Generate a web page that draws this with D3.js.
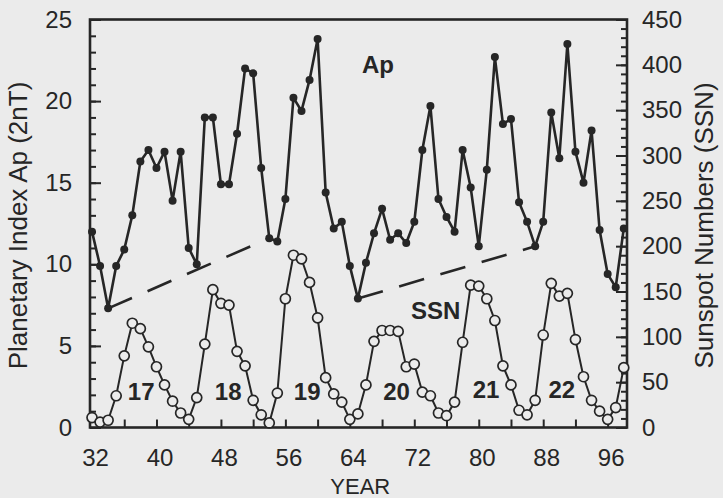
<!DOCTYPE html>
<html>
<head>
<meta charset="utf-8">
<script src="https://cdn.jsdelivr.net/npm/d3@7"></script>
<style>
  body { margin: 0; background: #ebebeb; }
  svg { display: block; font-family: "Liberation Sans", Arial, sans-serif; }
  .axis path, .axis line { stroke: #262626; stroke-width: 2; }
  .axis text { font-size: 24px; fill: #262626; }
</style>
</head>
<body>
<div class="container"></div>
<script>
// yearly values, 1932 .. 1998
var years = d3.range(1932, 1999);
var apValues = [12.0, 9.9, 7.3, 9.9, 10.9, 13.0, 16.3, 17.0, 15.9, 16.9,
                13.9, 16.9, 11.0, 10.0, 19.0, 19.0, 14.9, 14.9, 18.0, 22.0,
                21.7, 15.9, 11.6, 11.4, 14.0, 20.2, 19.4, 21.3, 23.8, 14.4,
                12.2, 12.6, 9.9, 7.9, 10.1, 11.9, 13.4, 11.5, 11.9, 11.3,
                12.6, 17.0, 19.7, 14.0, 12.9, 12.0, 17.0, 14.7, 11.1, 15.8,
                22.7, 18.6, 18.9, 13.8, 12.6, 11.1, 12.6, 19.3, 16.5, 23.5,
                16.9, 15.0, 18.2, 12.1, 9.4, 8.6, 12.2];
var ssnValues = [11, 6, 8, 35, 79, 115, 109, 89, 67, 47,
                 29, 16, 9, 33, 92, 152, 137, 135, 84, 68,
                 30, 14, 5, 38, 142, 190, 186, 160, 121, 55,
                 37, 28, 9, 15, 47, 95, 107, 107, 106, 67,
                 70, 39, 35, 16, 13, 28, 94, 157, 156, 142,
                 118, 68, 47, 19, 14, 30, 102, 159, 145, 148,
                 97, 56, 30, 18, 9, 22, 66];

// dashed lines join these Ap minima
var trendPairs = [[1934, 1954], [1965, 1987]];

// solar cycle numbers
var cycleNames = ["17", "18", "19", "20", "21", "22"];
var cycleYears = [1938.1, 1948.9, 1958.7, 1969.8, 1980.9, 1990.3];
var cycleSsn = [30, 30, 30, 30, 33, 33];

var yearTicks = d3.range(1932, 1999, 8);

var margin = {top: 19.5, right: 96, bottom: 70.5, left: 90};
var width = 723 - margin.left - margin.right;
var height = 498 - margin.top - margin.bottom;
var ink = "#262626";
var bg = "#ebebeb";

var x = d3.scaleLinear().domain([1931.75, 1998.4]).range([0, width]);
var yAp = d3.scaleLinear().domain([0, 25]).range([height, 0]);
var ySsn = d3.scaleLinear().domain([0, 450]).range([height, 0]);

var apData = years.map(function(yr, i) { return {year: yr, value: apValues[i]}; });
var ssnData = years.map(function(yr, i) { return {year: yr, value: ssnValues[i]}; });

var svg = d3.select(".container")
    .append("svg")
    .attr("width", 723)
    .attr("height", 498)
    .append("g")
    .attr("transform", "translate(" + margin.left + "," + margin.top + ")");

// frame
svg.append("rect")
    .attr("width", width)
    .attr("height", height)
    .attr("fill", "none")
    .attr("stroke", ink)
    .attr("stroke-width", 2.6);

// left axis: minor + major ticks pointing in
svg.append("g")
    .attr("class", "axis")
    .call(d3.axisLeft(yAp).tickValues(d3.range(0, 26, 1)).tickSize(-6).tickFormat(""));
svg.append("g")
    .attr("class", "axis")
    .call(d3.axisLeft(yAp).tickValues(d3.range(0, 26, 5)).tickSize(-11).tickPadding(18));

// right axis
svg.append("g")
    .attr("class", "axis")
    .attr("transform", "translate(" + width + ",0)")
    .call(d3.axisRight(ySsn).tickValues(d3.range(0, 451, 10)).tickSize(-6).tickFormat(""));
svg.append("g")
    .attr("class", "axis")
    .attr("transform", "translate(" + width + ",0)")
    .call(d3.axisRight(ySsn).tickValues(d3.range(0, 451, 50)).tickSize(-11).tickPadding(15));

// bottom axis
svg.append("g")
    .attr("class", "axis")
    .attr("transform", "translate(0," + height + ")")
    .call(d3.axisBottom(x).tickValues(d3.range(1936, 1998, 4)).tickSize(-8).tickFormat(""));
svg.append("g")
    .attr("class", "axis")
    .attr("transform", "translate(0," + height + ")")
    .call(d3.axisBottom(x).tickValues(yearTicks).tickSize(0).tickPadding(21)
      .tickFormat(function(d) { return d3.format("02d")(d % 100); }))
    .selectAll("text").attr("dx", "3");

svg.selectAll(".axis .domain").remove();

// axis titles
svg.append("text")
    .attr("transform", "translate(-63," + (height / 2 + 2) + ") rotate(-90)")
    .attr("text-anchor", "middle")
    .style("font-size", "26px")
    .attr("fill", ink)
    .text("Planetary Index Ap (2nT)");

svg.append("text")
    .attr("transform", "translate(" + (width + 86) + "," + (height / 2 + 2) + ") rotate(-90)")
    .attr("text-anchor", "middle")
    .style("font-size", "26px")
    .attr("fill", ink)
    .text("Sunspot Numbers (SSN)");

svg.append("text")
    .attr("x", x(1965.3))
    .attr("y", height + 66)
    .attr("text-anchor", "middle")
    .style("font-size", "22px")
    .attr("fill", ink)
    .text("YEAR");

// dashed trend lines between Ap minima
trendPairs.forEach(function(p) {
  var a = apData[p[0] - 1932], b = apData[p[1] - 1932];
  svg.append("line")
      .attr("x1", x(a.year)).attr("y1", yAp(a.value))
      .attr("x2", x(b.year)).attr("y2", yAp(b.value))
      .attr("stroke", ink)
      .attr("stroke-width", 2.6)
      .attr("stroke-dasharray", "26,17");
});

// SSN: line with open circles
var ssnLine = d3.line()
    .x(function(d) { return x(d.year); })
    .y(function(d) { return ySsn(d.value); });

svg.append("path")
    .datum(ssnData)
    .attr("fill", "none")
    .attr("stroke", ink)
    .attr("stroke-width", 2)
    .attr("d", ssnLine);

svg.selectAll(".ssn")
    .data(ssnData)
    .enter().append("circle")
    .attr("class", "ssn")
    .attr("cx", function(d) { return x(d.year); })
    .attr("cy", function(d) { return ySsn(d.value); })
    .attr("r", 5)
    .attr("fill", bg)
    .attr("stroke", ink)
    .attr("stroke-width", 1.7);

// Ap: line with filled dots
var apLine = d3.line()
    .x(function(d) { return x(d.year); })
    .y(function(d) { return yAp(d.value); });

svg.append("path")
    .datum(apData)
    .attr("fill", "none")
    .attr("stroke", ink)
    .attr("stroke-width", 2.6)
    .attr("d", apLine);

svg.selectAll(".ap")
    .data(apData)
    .enter().append("circle")
    .attr("class", "ap")
    .attr("cx", function(d) { return x(d.year); })
    .attr("cy", function(d) { return yAp(d.value); })
    .attr("r", 4)
    .attr("fill", ink);

// series names
svg.append("text")
    .attr("x", x(1965.5))
    .attr("y", yAp(21.7))
    .style("font-size", "24px")
    .style("font-weight", "bold")
    .attr("fill", ink)
    .text("Ap");

svg.append("text")
    .attr("x", x(1971.6))
    .attr("y", ySsn(120))
    .style("font-size", "24px")
    .style("font-weight", "bold")
    .attr("fill", ink)
    .text("SSN");

// cycle numbers
svg.selectAll(".cycle")
    .data(cycleNames)
    .enter().append("text")
    .attr("class", "cycle")
    .attr("x", function(d, i) { return x(cycleYears[i]); })
    .attr("y", function(d, i) { return ySsn(cycleSsn[i]); })
    .attr("text-anchor", "middle")
    .style("font-size", "24px")
    .style("font-weight", "bold")
    .attr("fill", ink)
    .text(function(d) { return d; });
</script>
</body>
</html>
